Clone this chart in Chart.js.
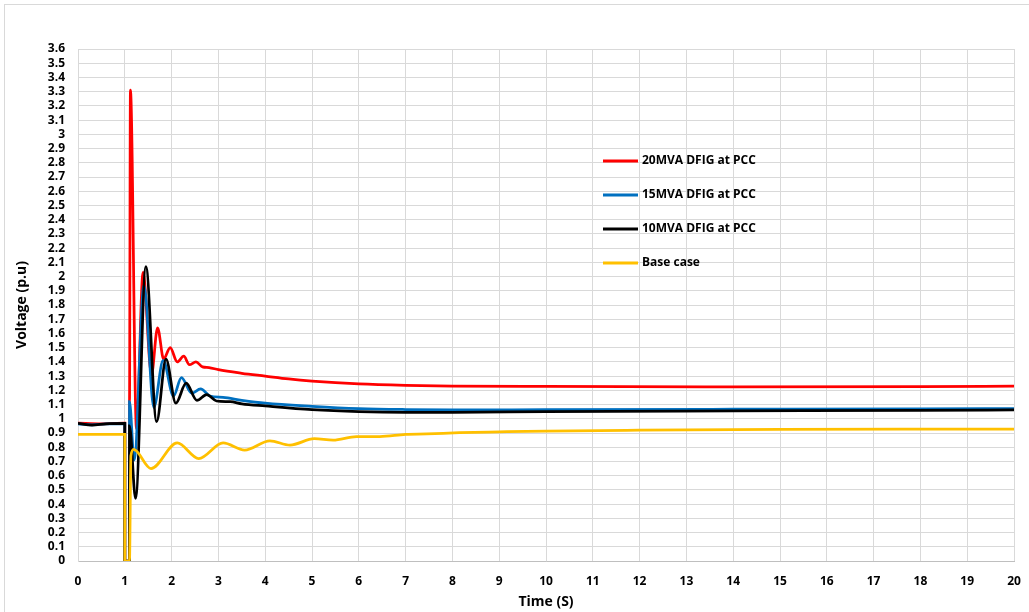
<!DOCTYPE html>
<html>
<head>
<meta charset="utf-8">
<script src="https://cdn.jsdelivr.net/npm/chart.js@4.4.0/dist/chart.umd.min.js"></script>
<style>
    html, body { margin: 0; padding: 0; background: #fff; }
    #wrap { position: relative; width: 1029px; height: 612px; overflow: hidden; }
    #frame { position: absolute; left: 4px; top: 4px; width: 1040px; height: 640px; border: 1px solid #d9d9d9; box-sizing: border-box; }
    canvas { position: absolute; left: 0; top: 0; }
</style>
</head>
<body>
<div id="wrap">
    <div id="frame"></div>
    <canvas id="voltChart" width="1029" height="612"></canvas>
</div>
<script>
// Data (time in s, voltage in p.u)
const labels = ["20MVA DFIG at PCC", "15MVA DFIG at PCC", "10MVA DFIG at PCC", "Base case"];

const t20 = [0, 0.5, 1.0, 1.0, 1.1, 1.1, 1.12, 1.25, 1.39, 1.57, 1.70, 1.83, 1.97, 2.12, 2.26, 2.38, 2.52, 2.66, 2.8, 3.0, 3.5, 4.0, 4.5, 5, 6, 7, 8, 10, 14, 18, 20];
const v20 = [0.97, 0.965, 0.97, 0, 0, 1.12, 3.31, 0.93, 2.03, 1.31, 1.64, 1.42, 1.50, 1.40, 1.44, 1.38, 1.40, 1.365, 1.36, 1.345, 1.32, 1.30, 1.28, 1.265, 1.245, 1.235, 1.23, 1.227, 1.225, 1.226, 1.23];

const t15 = [0, 0.3, 0.6, 1.0, 1.0, 1.1, 1.1, 1.2, 1.41, 1.62, 1.82, 2.04, 2.21, 2.43, 2.62, 2.82, 3.1, 3.5, 4, 5, 6, 7, 8, 10, 14, 18, 20];
const v15 = [0.965, 0.958, 0.965, 0.965, 0, 0, 1.12, 0.71, 1.94, 1.08, 1.41, 1.16, 1.29, 1.18, 1.21, 1.16, 1.15, 1.13, 1.11, 1.088, 1.072, 1.065, 1.062, 1.064, 1.067, 1.069, 1.072];

const t10 = [0, 0.3, 0.6, 1.0, 1.0, 1.1, 1.1, 1.23, 1.45, 1.68, 1.88, 2.09, 2.31, 2.54, 2.75, 2.96, 3.25, 3.5, 4, 5, 6, 7, 8, 10, 14, 18, 20];
const v10 = [0.968, 0.955, 0.965, 0.968, 0, 0, 0.95, 0.44, 2.07, 0.98, 1.42, 1.11, 1.25, 1.13, 1.17, 1.125, 1.12, 1.105, 1.09, 1.064, 1.05, 1.045, 1.045, 1.05, 1.055, 1.059, 1.062];

const tBase = [0, 1.0, 1.0, 1.1, 1.13, 1.19, 1.56, 2.12, 2.58, 3.1, 3.56, 4.1, 4.53, 5.05, 5.45, 5.95, 6.45, 7.0, 7.45, 8.15, 9, 10, 12, 15, 18, 20];
const vBase = [0.89, 0.89, 0, 0, 0.74, 0.785, 0.65, 0.83, 0.72, 0.83, 0.78, 0.845, 0.815, 0.86, 0.85, 0.875, 0.875, 0.89, 0.893, 0.902, 0.908, 0.914, 0.92, 0.926, 0.928, 0.928];

const colors = ["#FF0000", "#0070C0", "#000000", "#FFC000"];

function pts(ts, vs) {
    return ts.map((t, i) => ({ x: t, y: vs[i] }));
}

// legend drawn inside the plot area
const innerLegend = {
    id: "innerLegend",
    afterDatasetsDraw(chart) {
        const ctx = chart.ctx;
        const left = chart.chartArea.left + 525;
        const top = chart.chartArea.top + 112;
        ctx.save();
        ctx.font = "bold 12px 'Open Sans'";
        ctx.textBaseline = "middle";
        ctx.fillStyle = "#000";
        ctx.lineWidth = 3;
        labels.forEach((lab, i) => {
            const y = top + i * 34;
            ctx.strokeStyle = colors[i];
            ctx.beginPath();
            ctx.moveTo(left, y);
            ctx.lineTo(left + 35, y);
            ctx.stroke();
            ctx.fillText(lab, left + 39, y);
        });
        ctx.restore();
    }
};

const series = [pts(t20, v20), pts(t15, v15), pts(t10, v10), pts(tBase, vBase)];
const drawOrder = [3, 2, 1, 0];

new Chart(document.getElementById("voltChart"), {
    type: "line",
    data: {
        datasets: series.map((d, i) => ({
            label: labels[i],
            data: d,
            borderColor: colors[i],
            backgroundColor: colors[i],
            borderWidth: 2.75,
            pointRadius: 0,
            cubicInterpolationMode: "monotone",
            order: drawOrder[i],
        })),
    },
    options: {
        responsive: false,
        animation: false,
        layout: { padding: { top: 49, right: 15, left: 0, bottom: 0 } },
        plugins: {
            legend: { display: false },
            tooltip: { enabled: false },
        },
        scales: {
            x: {
                type: "linear",
                min: 0,
                max: 20,
                ticks: {
                    stepSize: 1,
                    padding: 13,
                    color: "#000",
                    font: { family: "'Open Sans'", size: 12, weight: "bold" },
                },
                grid: { color: "#d9d9d9", drawTicks: false },
                border: { color: "#bfbfbf" },
                title: {
                    display: true,
                    text: "Time (S)",
                    color: "#000",
                    font: { family: "'Open Sans'", size: 14, weight: "bold" },
                    padding: { top: 2, bottom: 2 },
                },
                afterFit(scale) {
                    scale.height = 51;
                    scale.paddingLeft = 0;
                    scale.paddingRight = 0;
                },
            },
            y: {
                min: 0,
                max: 3.6,
                ticks: {
                    stepSize: 0.1,
                    padding: 13,
                    autoSkip: false,
                    color: "#000",
                    font: { family: "'Open Sans'", size: 12, weight: "bold" },
                    callback: (v) => String(+v.toFixed(1)),
                },
                grid: { color: "#d9d9d9", drawTicks: false },
                border: { color: "#d9d9d9" },
                title: {
                    display: true,
                    text: "Voltage (p.u)",
                    color: "#000",
                    font: { family: "'Open Sans'", size: 14, weight: "bold" },
                    padding: { top: 14, bottom: 14 },
                },
                afterFit(scale) { scale.width = 78; },
            },
        },
    },
    plugins: [innerLegend],
});
</script>
</body>
</html>
